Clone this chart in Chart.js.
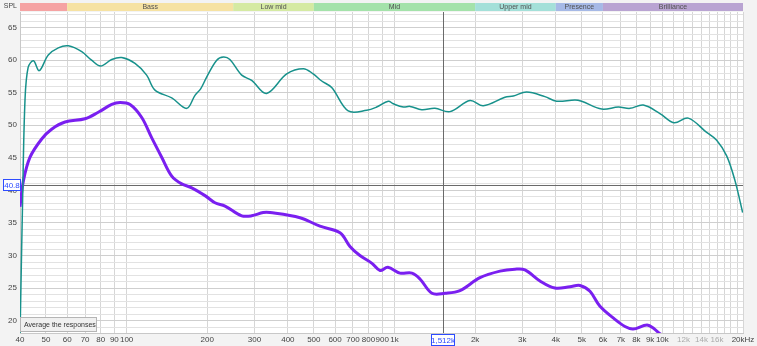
<!DOCTYPE html>
<html>
<head>
<meta charset="utf-8">
<script src="https://cdn.jsdelivr.net/npm/chart.js@4.4.0/dist/chart.umd.min.js"></script>
<style>
  html, body { margin: 0; padding: 0; background: #f3f3f3; }
  canvas { display: block; }
</style>
</head>
<body>
<canvas id="spl" width="757" height="346"></canvas>
<script>
// measured response (teal) - frequency in Hz, SPL in dB
var tealFreq = [40, 40.9, 41.75, 42.9, 44.9, 47.2, 51, 55.6, 60.6, 68, 74, 80, 88, 95.9, 107.5, 118.8, 127.6, 147.4, 167.6, 180, 189, 199, 217, 230, 243, 269, 293, 333, 396, 457, 497, 535, 583, 672, 788, 858, 948, 990, 1079, 1143, 1264, 1416, 1611, 1913, 2145, 2584, 2777, 3115, 3645, 4031, 4717, 4996, 5937, 6848, 7568, 8486, 9795, 11048, 12492, 14634, 15950, 17380, 18668, 19940];
var tealSpl = [17.5, 38.4, 53.8, 58.9, 59.9, 58.4, 60.8, 61.9, 62.2, 61.3, 60.0, 59.1, 60.1, 60.4, 59.5, 57.7, 55.4, 54.2, 52.6, 54.6, 55.6, 57.4, 60.0, 60.5, 60.1, 57.7, 56.9, 54.9, 57.9, 58.7, 57.9, 56.8, 55.8, 52.2, 52.3, 52.8, 53.7, 53.3, 52.8, 52.9, 52.4, 52.6, 52.1, 53.8, 53.0, 54.3, 54.5, 55.1, 54.4, 53.7, 53.9, 53.7, 52.5, 52.8, 52.6, 53.1, 51.8, 50.4, 51.1, 48.9, 47.7, 45.3, 41.5, 36.6];

// averaged response (purple)
var purpleFreq = [40, 41.2, 43.6, 48.2, 52.5, 58.9, 69.9, 78.4, 88, 94.5, 103, 113.9, 124, 135.2, 147.4, 160.6, 175, 196.2, 213.8, 233, 269, 293, 323.7, 343, 444, 527, 626, 682, 743, 824, 883, 945, 1048, 1162, 1245, 1380, 1544, 1756, 2085, 2476, 2817, 3069, 3492, 3973, 4519, 4925, 5367, 5849, 6653, 7251, 7770, 8836, 9795, 10200];
var purpleSpl = [37.5, 41.5, 45.1, 47.9, 49.4, 50.5, 51.0, 52.0, 53.2, 53.5, 53.2, 51.2, 48.1, 45.1, 42.2, 41.0, 40.4, 39.2, 38.1, 37.6, 36.1, 36.1, 36.6, 36.6, 35.8, 34.5, 33.5, 31.4, 30.0, 28.8, 27.7, 28.2, 27.3, 27.3, 26.4, 24.2, 24.2, 24.6, 26.6, 27.6, 27.9, 27.8, 26.1, 25.0, 25.2, 25.4, 24.5, 22.2, 20.2, 19.1, 18.7, 19.3, 18.0, 17.5];

// x axis ticks
var xTicks = [40, 50, 60, 70, 80, 90, 100, 200, 300, 400, 500, 600, 700, 800, 900, 1000, 2000, 3000, 4000, 5000, 6000, 7000, 8000, 9000, 10000, 11000, 12000, 13000, 14000, 15000, 16000, 17000, 18000, 19000, 20000];
var xTickLabels = ['40', '50', '60', '70', '80', '90', '100', '200', '300', '400', '500', '600', '700', '800', '900', '1k', '2k', '3k', '4k', '5k', '6k', '7k', '8k', '9k', '10k', '', '12k', '', '14k', '', '16k', '', '', '', '20kHz'];
var xFaded = [12000, 14000, 16000];

// frequency bands on top
var bandNames = ['', 'Bass', 'Low mid', 'Mid', 'Upper mid', 'Presence', 'Brilliance'];
var bandStart = [20, 60, 250, 500, 2000, 4000, 6000];
var bandEnd = [60, 250, 500, 2000, 4000, 6000, 20000];
var bandColors = ['#f5a3a3', '#f6e2a2', '#d5eaa3', '#a4e2aa', '#a4e0d9', '#a6b9e6', '#b9a4d2'];

// cursor
var cursorFreq = 1512;
var cursorSpl = 40.8;

var FONT = 'Liberation Sans';

var decorations = {
  id: 'decorations',
  beforeDraw: function(chart) {
    var c = chart.ctx, a = chart.chartArea;
    c.save();
    c.fillStyle = '#f3f3f3';
    c.fillRect(0, 0, chart.width, chart.height);
    c.fillStyle = '#ffffff';
    c.fillRect(a.left, a.top, a.right - a.left, a.bottom - a.top);
    c.restore();
  },
  beforeDatasetsDraw: function(chart) {
    var c = chart.ctx, a = chart.chartArea;
    var xs = chart.scales.x, ys = chart.scales.y;
    var cx = Math.round(xs.getPixelForValue(cursorFreq)) + 0.5;
    var cy = Math.round(ys.getPixelForValue(cursorSpl)) + 0.5;
    c.save();
    c.strokeStyle = '#6a6a6a';
    c.lineWidth = 1;
    c.beginPath();
    c.moveTo(cx, a.top); c.lineTo(cx, a.bottom);
    c.moveTo(a.left, cy); c.lineTo(a.right, cy);
    c.stroke();
    c.restore();
  },
  afterDraw: function(chart) {
    var c = chart.ctx, a = chart.chartArea;
    var xs = chart.scales.x, ys = chart.scales.y;
    c.save();
    // band strip
    c.font = '7px "' + FONT + '"';
    c.textAlign = 'center';
    c.textBaseline = 'middle';
    for (var i = 0; i < bandNames.length; i++) {
      var x1 = Math.max(a.left, xs.getPixelForValue(bandStart[i]));
      var x2 = Math.min(a.right, xs.getPixelForValue(bandEnd[i]));
      c.fillStyle = bandColors[i];
      c.fillRect(x1, 3, x2 - x1, 8);
      c.fillStyle = '#505050';
      if (bandNames[i]) c.fillText(bandNames[i], (x1 + x2) / 2, 7.5);
    }
    // SPL label
    c.fillStyle = '#444';
    c.textAlign = 'right';
    c.fillText('SPL', 17, 6);

    // cursor value boxes
    var cy = Math.round(ys.getPixelForValue(cursorSpl));
    c.font = '8px "' + FONT + '"';
    c.fillStyle = '#ffffff';
    c.fillRect(3.5, cy - 5.5, 17, 11);
    c.strokeStyle = '#2e4cff';
    c.lineWidth = 1;
    c.strokeRect(3.5, cy - 5.5, 17, 11);
    c.fillStyle = '#2e4cff';
    c.textAlign = 'center';
    c.fillText('40.8', 12, cy + 0.5);

    var cx = Math.round(xs.getPixelForValue(cursorFreq));
    c.fillStyle = '#ffffff';
    c.fillRect(cx - 11.5, a.bottom + 1.5, 23, 11);
    c.strokeRect(cx - 11.5, a.bottom + 1.5, 23, 11);
    c.fillStyle = '#2e4cff';
    c.fillText('1,512k', cx, a.bottom + 7.5);

    // "Average the responses" box
    c.fillStyle = '#f0f0f0';
    c.fillRect(a.left + 0.5, a.bottom - 15.5, 76, 14);
    c.strokeStyle = '#b5b5b5';
    c.strokeRect(a.left + 0.5, a.bottom - 15.5, 76, 14);
    c.fillStyle = '#333';
    c.font = '7px "' + FONT + '"';
    c.textAlign = 'left';
    c.fillText('Average the responses', a.left + 4, a.bottom - 8);
    c.restore();
  }
};

function toPoints(fs, vs) {
  return fs.map(function(f, i) { return { x: f, y: vs[i] }; });
}

new Chart(document.getElementById('spl'), {
  type: 'line',
  data: {
    datasets: [
      {
        data: toPoints(tealFreq, tealSpl),
        borderColor: '#17918b',
        borderWidth: 1.5,
        pointRadius: 0,
        tension: 0.35,
        clip: 0
      },
      {
        data: toPoints(purpleFreq, purpleSpl),
        borderColor: '#7a1ff0',
        borderWidth: 3,
        pointRadius: 0,
        tension: 0.35,
        clip: 0
      }
    ]
  },
  options: {
    responsive: false,
    animation: false,
    events: [],
    layout: { padding: { top: 12, right: 14, left: 0, bottom: 0 } },
    plugins: { legend: { display: false }, tooltip: { enabled: false } },
    scales: {
      x: {
        type: 'logarithmic',
        min: 40,
        max: 20000,
        afterBuildTicks: function(scale) {
          scale.ticks = xTicks.map(function(v) { return { value: v }; });
        },
        afterFit: function(scale) { scale.height = 13; },
        grid: { color: '#d6d6d6', drawTicks: false, tickLength: 0 },
        border: { display: true, color: '#c8c8c8' },
        ticks: {
          autoSkip: false,
          maxRotation: 0,
          padding: 2,
          font: { family: FONT, size: 8 },
          color: function(ctx) {
            return ctx.tick && xFaded.indexOf(ctx.tick.value) >= 0 ? '#aaaaaa' : '#444444';
          },
          callback: function(value) {
            var i = xTicks.indexOf(value);
            return i >= 0 ? xTickLabels[i] : '';
          }
        }
      },
      y: {
        min: 18.1,
        max: 67.4,
        afterBuildTicks: function(scale) {
          var t = [];
          for (var v = 19; v <= 67; v++) t.push({ value: v });
          scale.ticks = t;
        },
        afterFit: function(scale) { scale.width = 20; },
        grid: {
          drawTicks: false,
          tickLength: 0,
          color: function(ctx) {
            return ctx.tick && ctx.tick.value % 5 === 0 ? '#cfcfcf' : '#e2e2e2';
          }
        },
        border: { display: true, color: '#c8c8c8' },
        ticks: {
          autoSkip: false,
          padding: 3,
          font: { family: FONT, size: 8 },
          color: '#444444',
          callback: function(value) { return value % 5 === 0 ? String(value) : ''; }
        }
      }
    }
  },
  plugins: [decorations]
});
</script>
</body>
</html>
